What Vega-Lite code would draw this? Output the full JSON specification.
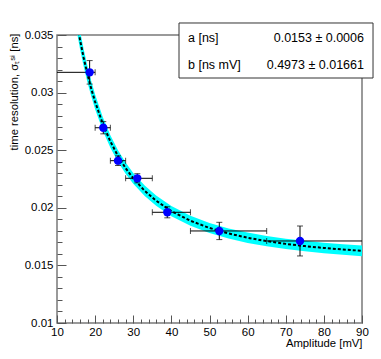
{
  "$schema": "https://vega.github.io/schema/vega-lite/v6.json",
  "width": 305,
  "height": 288,
  "autosize": {"type": "none"},
  "padding": {"left": 57, "top": 35, "right": 19, "bottom": 36},
  "background": "white",
  "config": {
    "view": {"stroke": "#7a7a7a", "strokeWidth": 1.5},
    "font": "Liberation Sans",
    "axis": {
      "grid": false,
      "domain": false,
      "tickColor": "#555555",
      "tickWidth": 1,
      "labelColor": "black",
      "labelFont": "Liberation Sans",
      "labelFontSize": 11.5,
      "labelFlush": false,
      "labelOverlap": false,
      "titleFont": "Liberation Sans",
      "titleFontSize": 11.3,
      "titleFontWeight": "normal",
      "titleColor": "black"
    }
  },
  "datasets": {
    "points": [
      {"amp": 18.56, "sigma": 0.03176, "serr": 0.00102, "alo": 8, "ahi": 20},
      {"amp": 22.14, "sigma": 0.02695, "serr": 0.00053, "alo": 20, "ahi": 24},
      {"amp": 26.0, "sigma": 0.02409, "serr": 0.00042, "alo": 24, "ahi": 28},
      {"amp": 31.06, "sigma": 0.02256, "serr": 0.0004, "alo": 28, "ahi": 35},
      {"amp": 38.93, "sigma": 0.01961, "serr": 0.00048, "alo": 35, "ahi": 45},
      {"amp": 52.57, "sigma": 0.01799, "serr": 0.00075, "alo": 45, "ahi": 65},
      {"amp": 73.74, "sigma": 0.01712, "serr": 0.0013, "alo": 65, "ahi": 92}
    ],
    "fit": [
      {"amp": 15, "fit": 0.036513, "lo": 0.035663, "hi": 0.037363},
      {"amp": 16, "fit": 0.034643, "lo": 0.033849, "hi": 0.035437},
      {"amp": 17, "fit": 0.033013, "lo": 0.032267, "hi": 0.033759},
      {"amp": 18, "fit": 0.031581, "lo": 0.030877, "hi": 0.032285},
      {"amp": 19, "fit": 0.030318, "lo": 0.029651, "hi": 0.030985},
      {"amp": 20, "fit": 0.029195, "lo": 0.02856, "hi": 0.02983},
      {"amp": 22, "fit": 0.027296, "lo": 0.026714, "hi": 0.027878},
      {"amp": 24, "fit": 0.025758, "lo": 0.025216, "hi": 0.0263},
      {"amp": 26, "fit": 0.024494, "lo": 0.023982, "hi": 0.025006},
      {"amp": 28, "fit": 0.023442, "lo": 0.022953, "hi": 0.023931},
      {"amp": 30, "fit": 0.022558, "lo": 0.022086, "hi": 0.02303},
      {"amp": 33, "fit": 0.021475, "lo": 0.02102, "hi": 0.02193},
      {"amp": 36, "fit": 0.020614, "lo": 0.02017, "hi": 0.021058},
      {"amp": 40, "fit": 0.019714, "lo": 0.019276, "hi": 0.020152},
      {"amp": 45, "fit": 0.018874, "lo": 0.018438, "hi": 0.01931},
      {"amp": 50, "fit": 0.018249, "lo": 0.017811, "hi": 0.018687},
      {"amp": 55, "fit": 0.017772, "lo": 0.01733, "hi": 0.018214},
      {"amp": 60, "fit": 0.017401, "lo": 0.016955, "hi": 0.017847},
      {"amp": 65, "fit": 0.017106, "lo": 0.016656, "hi": 0.017556},
      {"amp": 70, "fit": 0.016869, "lo": 0.016415, "hi": 0.017323},
      {"amp": 75, "fit": 0.016675, "lo": 0.016218, "hi": 0.017132},
      {"amp": 80, "fit": 0.016515, "lo": 0.016055, "hi": 0.016975},
      {"amp": 85, "fit": 0.016381, "lo": 0.015918, "hi": 0.016844},
      {"amp": 90, "fit": 0.016267, "lo": 0.015801, "hi": 0.016733}
    ],
    "stats": [
      {"param": "a [ns]", "value": "0.0153 ± 0.0006"},
      {"param": "b [ns mV]", "value": "0.4973 ± 0.01661"}
    ],
    "box": [{"name": "stats box"}]
  },
  "layer": [
    {
      "data": {"name": "fit"},
      "mark": {"type": "area", "color": "#00ffff", "opacity": 1, "clip": true},
      "encoding": {
        "x": {
          "field": "amp", "type": "quantitative",
          "scale": {"domain": [10, 90], "nice": false, "zero": false},
          "axis": {
            "orient": "bottom",
            "values": [10, 20, 30, 40, 50, 60, 70, 80, 90],
            "format": "d",
            "tickSize": -8,
            "labelPadding": 11,
            "title": "Amplitude [mV]",
            "titleAnchor": "end",
            "titleAlign": "right",
            "titleBaseline": "middle",
            "titleX": 305,
            "titleY": 20
          }
        },
        "y": {
          "field": "lo", "type": "quantitative",
          "scale": {"domain": [0.01, 0.035], "nice": false, "zero": false},
          "axis": {
            "orient": "left",
            "values": [0.01, 0.015, 0.02, 0.025, 0.03, 0.035],
            "format": ".3~f",
            "tickSize": -9,
            "labelPadding": 13,
            "title": "time resolution, σₜˢⁱ [ns]",
            "titleAngle": -90,
            "titleAnchor": "end",
            "titleAlign": "right",
            "titleBaseline": "middle",
            "titleX": -43,
            "titleY": -2
          }
        },
        "y2": {"field": "hi"}
      }
    },
    {
      "data": {"name": "fit"},
      "mark": {"type": "line", "color": "black", "strokeWidth": 2, "strokeDash": [3, 2], "clip": true},
      "encoding": {
        "x": {
          "field": "amp", "type": "quantitative",
          "axis": {
            "orient": "bottom",
            "values": [12, 14, 16, 18, 22, 24, 26, 28, 32, 34, 36, 38, 42, 44, 46, 48, 52, 54, 56, 58, 62, 64, 66, 68, 72, 74, 76, 78, 82, 84, 86, 88],
            "labels": false,
            "tickSize": -4,
            "title": null
          }
        },
        "y": {
          "field": "fit", "type": "quantitative",
          "axis": {
            "orient": "left",
            "values": [0.011, 0.012, 0.013, 0.014, 0.016, 0.017, 0.018, 0.019, 0.021, 0.022, 0.023, 0.024, 0.026, 0.027, 0.028, 0.029, 0.031, 0.032, 0.033, 0.034],
            "labels": false,
            "tickSize": -5,
            "title": null
          }
        }
      }
    },
    {
      "data": {"name": "points"},
      "mark": {"type": "errorbar", "ticks": {"size": 6}, "color": "black", "thickness": 1, "clip": true},
      "encoding": {
        "x": {"field": "alo", "type": "quantitative", "axis": null},
        "x2": {"field": "ahi"},
        "y": {"field": "sigma", "type": "quantitative", "axis": null}
      }
    },
    {
      "data": {"name": "points"},
      "mark": {"type": "errorbar", "ticks": {"size": 6}, "color": "black", "thickness": 1, "clip": true},
      "encoding": {
        "x": {"field": "amp", "type": "quantitative", "axis": null},
        "y": {"field": "sigma", "type": "quantitative", "axis": null},
        "yError": {"field": "serr"}
      }
    },
    {
      "data": {"name": "points"},
      "mark": {"type": "circle", "color": "#0000ff", "opacity": 1, "size": 70, "clip": true},
      "encoding": {
        "x": {"field": "amp", "type": "quantitative", "axis": null},
        "y": {"field": "sigma", "type": "quantitative", "axis": null}
      }
    },
    {
      "data": {"name": "box"},
      "mark": {"type": "rect", "fill": "white", "stroke": "#333333", "strokeWidth": 1},
      "encoding": {
        "x": {"datum": 42.0, "type": "quantitative", "axis": null},
        "x2": {"datum": 92.89},
        "y": {"datum": 0.036042, "type": "quantitative", "axis": null},
        "y2": {"datum": 0.031267}
      }
    },
    {
      "data": {"name": "stats"},
      "transform": [{"filter": "datum.param == 'a [ns]'"}],
      "mark": {"type": "text", "align": "left", "baseline": "middle", "fontSize": 12.5, "font": "Liberation Sans", "color": "black"},
      "encoding": {
        "x": {"datum": 44.36, "type": "quantitative", "axis": null},
        "y": {"datum": 0.034766, "type": "quantitative", "axis": null},
        "text": {"field": "param"}
      }
    },
    {
      "data": {"name": "stats"},
      "transform": [{"filter": "datum.param == 'a [ns]'"}],
      "mark": {"type": "text", "align": "right", "baseline": "middle", "fontSize": 12.5, "font": "Liberation Sans", "color": "black"},
      "encoding": {
        "x": {"datum": 90.52, "type": "quantitative", "axis": null},
        "y": {"datum": 0.034766, "type": "quantitative", "axis": null},
        "text": {"field": "value"}
      }
    },
    {
      "data": {"name": "stats"},
      "transform": [{"filter": "datum.param == 'b [ns mV]'"}],
      "mark": {"type": "text", "align": "left", "baseline": "middle", "fontSize": 12.5, "font": "Liberation Sans", "color": "black"},
      "encoding": {
        "x": {"datum": 44.36, "type": "quantitative", "axis": null},
        "y": {"datum": 0.032396, "type": "quantitative", "axis": null},
        "text": {"field": "param"}
      }
    },
    {
      "data": {"name": "stats"},
      "transform": [{"filter": "datum.param == 'b [ns mV]'"}],
      "mark": {"type": "text", "align": "right", "baseline": "middle", "fontSize": 12.5, "font": "Liberation Sans", "color": "black"},
      "encoding": {
        "x": {"datum": 90.52, "type": "quantitative", "axis": null},
        "y": {"datum": 0.032396, "type": "quantitative", "axis": null},
        "text": {"field": "value"}
      }
    }
  ],
  "resolve": {"axis": {"x": "independent", "y": "independent"}}
}
